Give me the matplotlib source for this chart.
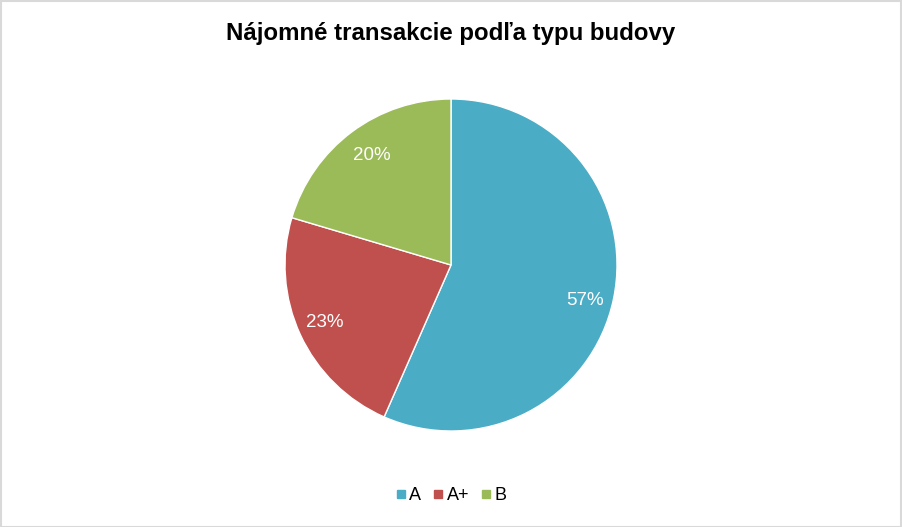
import matplotlib
matplotlib.use("Agg")
import matplotlib.pyplot as plt
from matplotlib.lines import Line2D
from matplotlib.patches import Rectangle
import numpy as np

categories = ["A", "A+", "B"]
values = [56.6, 23.0, 20.4]
labels_pct = ["57%", "23%", "20%"]
colors = ["#4BACC6", "#C0504D", "#9BBB59"]
title = "Nájomné transakcie podľa typu budovy"

plt.rcParams['font.family'] = ['Liberation Sans', 'DejaVu Sans']

W, H = 902, 527
fig = plt.figure(figsize=(W / 100, H / 100), dpi=100)
fig.patch.set_facecolor("white")

cx, cy, r = 451, 265, 166
ax = fig.add_axes([(cx - r) / W, (H - cy - r) / H, 2 * r / W, 2 * r / H])
wedges, texts = ax.pie(
    values, colors=colors, startangle=90, counterclock=False,
    wedgeprops=dict(edgecolor="white", linewidth=1.0), radius=1.0)
for w, lab in zip(wedges, labels_pct):
    ang = np.deg2rad((w.theta1 + w.theta2) / 2 - 1.5)
    ax.text(0.83 * np.cos(ang), 0.83 * np.sin(ang) - 0.02, lab, ha="center",
            va="center", color="white", fontsize=13.5)
ax.set_xlim(-1, 1)
ax.set_ylim(-1, 1)
ax.set_aspect("equal")
ax.axis("off")

fig.text(0.5, 1 - 34 / H, title, ha="center", va="center",
         fontsize=17.3, fontweight="bold", color="black")

handles = [Line2D([], [], marker="s", linestyle="none", markersize=6,
                  markerfacecolor=c, markeredgecolor=c) for c in colors]
fig.legend(handles, categories, loc="center", bbox_to_anchor=(0.5, 1 - 496 / H),
           ncol=3, frameon=False, fontsize=13, handletextpad=0.2,
           columnspacing=0.65, handlelength=0.55)

fig.add_artist(Rectangle((0.5 / W, 0.5 / H), 1 - 1.5 / W, 1 - 1.5 / H,
                         transform=fig.transFigure, fill=False,
                         edgecolor="#D9D9D9", linewidth=1.5))

fig.savefig("out.png", dpi=100, facecolor="white")
